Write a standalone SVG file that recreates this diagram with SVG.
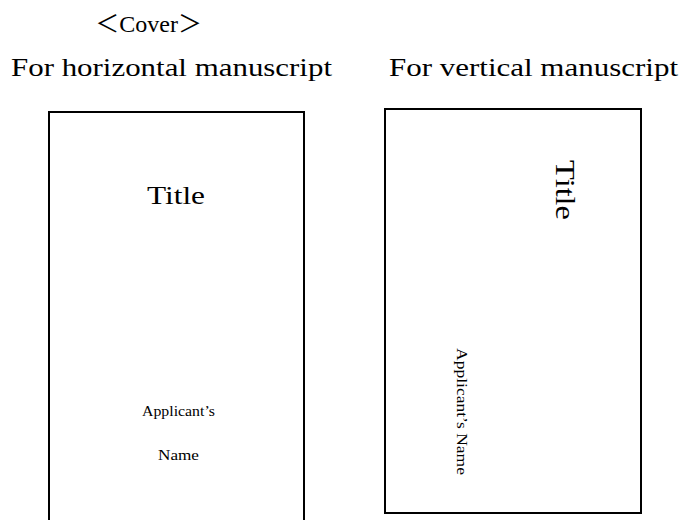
<svg xmlns="http://www.w3.org/2000/svg" width="683" height="520" viewBox="0 0 683 520">
<style>
text{font-family:"Liberation Serif","Noto Sans CJK JP",serif;fill:#000}
.page{fill:#fff;stroke:#000;stroke-width:2}
</style>
<rect width="683" height="520" fill="#fff"/>
<text x="202" y="32" font-size="24" text-anchor="end">＜Cover＞</text>
<text x="11" y="76" font-size="25" textLength="321" lengthAdjust="spacingAndGlyphs">For horizontal manuscript</text>
<text x="389" y="76" font-size="25" textLength="289" lengthAdjust="spacingAndGlyphs">For vertical manuscript</text>
<g id="horizontal">
<rect class="page" x="49" y="112" width="255" height="420"/>
<text x="147" y="204" font-size="26" textLength="58" lengthAdjust="spacingAndGlyphs">Title</text>
<text x="142" y="416" font-size="14" textLength="73" lengthAdjust="spacingAndGlyphs">Applicant’s</text>
<text x="158" y="460" font-size="14" textLength="41" lengthAdjust="spacingAndGlyphs">Name</text>
</g>
<g id="vertical">
<rect class="page" x="385" y="109" width="256" height="404"/>
<text transform="translate(556,160) rotate(90)" font-size="27" textLength="60" lengthAdjust="spacingAndGlyphs">Title</text>
<text transform="translate(457,348) rotate(90)" font-size="14" textLength="127" lengthAdjust="spacingAndGlyphs">Applicant’s Name</text>
</g>
</svg>
